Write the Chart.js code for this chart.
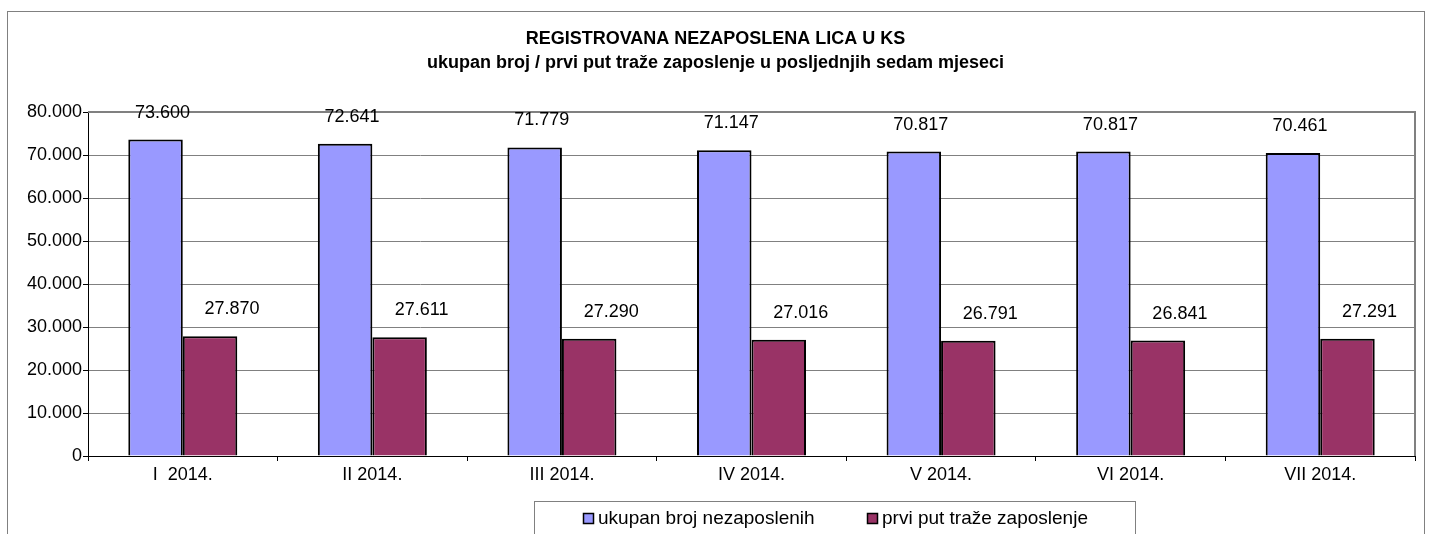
<!DOCTYPE html>
<html>
<head>
<meta charset="utf-8">
<script src="https://cdn.jsdelivr.net/npm/chart.js@4.4.1/dist/chart.umd.min.js"></script>
<style>
  html, body { margin: 0; padding: 0; background: #fff; }
  #wrap { width: 1431px; height: 534px; }
</style>
</head>
<body>
<div id="wrap"><canvas id="grafik" width="1431" height="534"></canvas></div>
<script>
const naslov = ['REGISTROVANA NEZAPOSLENA LICA U KS', 'ukupan broj / prvi put traže zaposlenje u posljednjih sedam mjeseci'];
const mjeseci = ['I  2014.', 'II 2014.', 'III 2014.', 'IV 2014.', 'V 2014.', 'VI 2014.', 'VII 2014.'];
const ukupno = [73600, 72641, 71779, 71147, 70817, 70817, 70461];
const prviPut = [27870, 27611, 27290, 27016, 26791, 26841, 27291];
const serije = ['ukupan broj nezaposlenih', 'prvi put traže zaposlenje'];
const boje = ['#9999FF', '#993366'];

const FONT = '"Liberation Sans", Arial, sans-serif';

// 80000 -> "80.000"
function tacke(v) {
  return String(v).replace(/\B(?=(\d{3})+(?!\d))/g, '.');
}

// okvir, rub plot podrucja, vrijednosti iznad stubova i legenda
const dodaci = {
  id: 'dodaci',
  beforeDatasetsDraw(chart) {
    const c = chart.ctx, a = chart.chartArea;
    c.save();
    c.strokeStyle = '#808080';
    c.lineWidth = 2;
    c.beginPath();
    c.moveTo(a.left, a.top);
    c.lineTo(a.right, a.top);
    c.lineTo(a.right, a.bottom);
    c.stroke();
    c.restore();
  },
  afterDatasetsDraw(chart) {
    const c = chart.ctx;
    const pomak = [7, 22];
    c.save();
    c.font = '18px ' + FONT;
    c.fillStyle = '#000';
    c.textAlign = 'center';
    c.textBaseline = 'middle';
    chart.data.datasets.forEach((ds, i) => {
      chart.getDatasetMeta(i).data.forEach((bar, j) => {
        c.fillText(tacke(ds.data[j]), bar.x + pomak[i], bar.y - 27);
      });
    });
    c.restore();
  },
  afterDraw(chart) {
    const c = chart.ctx;
    c.save();
    // vanjski okvir
    c.strokeStyle = '#808080';
    c.lineWidth = 1;
    c.strokeRect(7.5, 11.5, 1417, 600);
    // okvir legende
    c.strokeRect(534.5, 501.5, 601, 60);
    // stavke legende
    const xs = [583, 867];
    c.font = '19px ' + FONT;
    c.textBaseline = 'middle';
    c.textAlign = 'left';
    chart.data.datasets.forEach((ds, i) => {
      c.fillStyle = ds.backgroundColor;
      c.fillRect(xs[i], 513, 11, 11);
      c.strokeStyle = '#000';
      c.lineWidth = 1.5;
      c.strokeRect(xs[i] + 0.5, 513.5, 10, 10);
      c.fillStyle = '#000';
      c.fillText(ds.label, xs[i] + 15, 519);
    });
    c.restore();
  }
};

new Chart(document.getElementById('grafik').getContext('2d'), {
  type: 'bar',
  data: {
    labels: mjeseci,
    datasets: [
      { label: serije[0], data: ukupno, backgroundColor: boje[0], borderColor: '#000', borderWidth: 2 },
      { label: serije[1], data: prviPut, backgroundColor: boje[1], borderColor: '#000', borderWidth: 2 }
    ]
  },
  options: {
    responsive: false,
    animation: false,
    categoryPercentage: 0.575,
    barPercentage: 1.0,
    layout: { padding: { left: 16, right: 16, top: 0, bottom: 48 } },
    plugins: {
      legend: { display: false },
      tooltip: { enabled: false },
      title: {
        display: true,
        text: naslov,
        color: '#000',
        font: { family: FONT, size: 18, weight: 'bold', lineHeight: 1.28 },
        padding: { top: 28, bottom: 38 }
      }
    },
    scales: {
      x: {
        afterFit: s => { s.height = 30; },
        grid: { display: true, drawOnChartArea: false, offset: true, tickLength: 5, tickColor: '#000' },
        border: { color: '#000', width: 1 },
        ticks: { color: '#000', font: { family: FONT, size: 18 }, padding: 3, maxRotation: 0, autoSkip: false }
      },
      y: {
        min: 0,
        max: 80000,
        afterFit: s => { s.width = 72; },
        grid: { color: '#808080', lineWidth: 1, tickLength: 5, tickColor: '#000' },
        border: { color: '#000', width: 1 },
        ticks: { stepSize: 10000, color: '#000', padding: 1, font: { family: FONT, size: 18 }, callback: v => tacke(v) }
      }
    }
  },
  plugins: [dodaci]
});
</script>
</body>
</html>
